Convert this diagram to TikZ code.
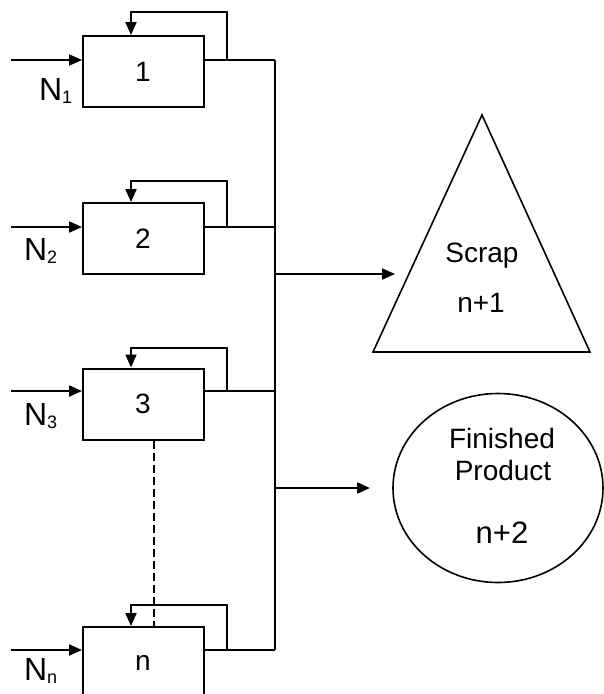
\documentclass[tikz,border=0pt]{standalone}
\usepackage{fontspec}
\setmainfont{Liberation Sans}
\usetikzlibrary{arrows.meta,shapes.geometric}
\begin{document}
\begin{tikzpicture}[x=1pt,y=-1pt,line width=2pt,
  proc/.style={draw,minimum width=121pt,minimum height=71pt,inner sep=0pt},
  num/.style={font=\fontsize{28}{28}\selectfont,inner sep=0pt,anchor=base},
  arr/.style={-{Triangle[length=13pt,width=11pt]}},
  lab/.style={font=\fontsize{32}{32}\selectfont,inner sep=0pt,anchor=base west},
  txt/.style={font=\fontsize{28}{28}\selectfont,inner sep=0pt,anchor=base},
  txtb/.style={font=\fontsize{31}{31}\selectfont,inner sep=0pt,anchor=base}]
\newcommand{\sbs}[1]{\raisebox{-3pt}{\fontsize{18}{18}\selectfont #1}}
\useasboundingbox (0,0) rectangle (604,694);
\clip (0,0) rectangle (604,694);

% process boxes
\node[proc] (b1) at (143.5,71.5) {};
\node[proc] (b2) at (143.5,238.5) {};
\node[proc] (b3) at (143.5,404) {};
\node[proc] (bn) at (143.5,662.5) {};
\node[num] (t1) at (143,81) {1};
\node[num] (t2) at (143,248) {2};
\node[num] (t3) at (143,413) {3};
\node[num] (tn) at (143,670) {n};

% input labels
\node[lab] (n1) at (38,100) {N\sbs{1}};
\node[lab] (n2) at (23,260) {N\sbs{2}};
\node[lab] (n3) at (23,425) {N\sbs{3}};
\node[lab] (nn) at (23,680) {N\sbs{n}};

% input coordinates
\coordinate (i1) at (11,60);
\coordinate (i2) at (11,227);
\coordinate (i3) at (11,391);
\coordinate (in) at (11,650);
% bus junctions
\coordinate (o1) at (275,60);
\coordinate (o2) at (275,227);
\coordinate (o3) at (275,391);
\coordinate (on) at (275,650);
% feedback corners
\coordinate (f1) at (227,12);
\coordinate (f2) at (227,181);
\coordinate (f3) at (227,348);
\coordinate (fn) at (227,605);
\coordinate (g1) at (131,12);
\coordinate (g2) at (131,181);
\coordinate (g3) at (131,348);
\coordinate (gn) at (131,605);

\foreach \k in {1,2,3,n}{
  \draw[arr] (i\k) -- (i\k -| b\k.west);
  \draw (b\k.east |- o\k) -- (o\k);
  \draw[arr] (f\k |- o\k) -- (f\k) -- (g\k) -- (g\k |- b\k.north);
}

% bus
\draw (o1) -- (on);

% dashed link
\coordinate (d) at (154,0);
\draw[line width=1.6pt,dash pattern=on 8pt off 4pt] (b3.south -| d) -- (bn.north -| d);

% to scrap
\coordinate (s0) at (275,274);
\coordinate (s1) at (395,274);
\draw[arr] (s0) -- (s1);
% to finished product
\coordinate (p0) at (275,488);
\coordinate (p1) at (370,488);
\draw[arr] (p0) -- (p1);

% scrap triangle
\coordinate (ta) at (482,115);
\coordinate (tb) at (590,352);
\coordinate (tc) at (373,352);
\draw[line width=1.6pt] (ta) -- (tb) -- (tc) -- cycle;
\node[txt] (scrap) at (482,262) {Scrap};
\node[txt] (np1) at (481,312) {n+1};

% finished product ellipse
\node[draw,ellipse,line width=1.6pt,minimum width=210pt,minimum height=189pt,inner sep=0pt] (fp) at (498,488) {};
\node[txt] (fin) at (502,448) {Finished};
\node[txt] (prod) at (503,480) {Product};
\node[txtb] (np2) at (502,543) {n+2};
\end{tikzpicture}
\end{document}
